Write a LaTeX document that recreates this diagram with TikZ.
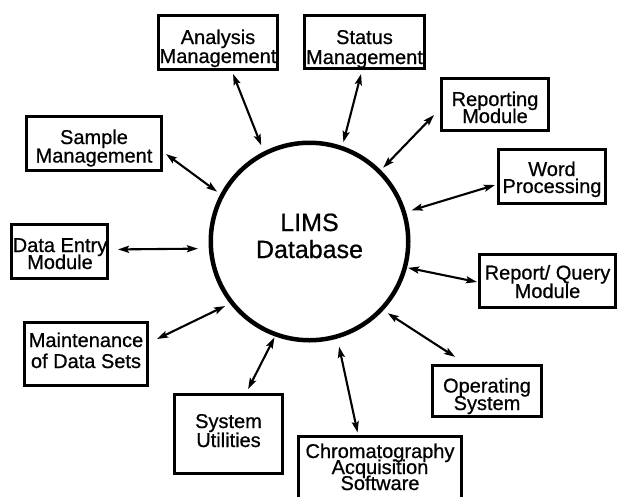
\documentclass[tikz,border=0pt]{standalone}
\usepackage{fontspec}
\setmainfont{Liberation Sans}[FakeBold=0.7]
\usetikzlibrary{arrows.meta}

% let lines sit closer than their natural height
\newcommand\tightlines{\lineskiplimit=-30pt\relax\lineskip=0pt\relax}

\tikzset{
  modbox/.style 2 args={draw, line width=2.6pt, inner sep=0pt,
    minimum width=#1, minimum height=#2},
  lbl/.style={align=center, anchor=base, inner sep=0pt,
    font=\fontsize{20pt}{#1}\selectfont\tightlines},
  link/.style={line width=2.1pt,
    {Stealth[length=11pt,width=7pt,inset=2pt]}-{Stealth[length=11pt,width=7pt,inset=2pt]}}
}

\begin{document}
\begin{tikzpicture}[x=1pt,y=-1pt]
  \path[use as bounding box, clip] (0,0) rectangle (618,496);
  \fill[white] (0,0) rectangle (618,496);

  % central database (text placed by the baseline of its last line)
  \node[circle, draw, line width=4.5pt, minimum size=197.5pt, inner sep=0pt] (lims) at (309.5,241.5) {};
  \node[lbl=27pt, font=\fontsize{25pt}{27pt}\selectfont\tightlines] (lims-t) at (309.5,258) {LIMS\\Database};

  % surrounding modules
  \node[modbox={119.4pt}{54.4pt}] (anal) at (218,42.5) {};
  \node[lbl=19pt] (anal-t) at (218,63) {Analysis\\Management};

  \node[modbox={120.4pt}{53.4pt}] (stat) at (364.5,42) {};
  \node[lbl=20pt] (stat-t) at (364.5,64) {Status\\Management};

  \node[modbox={107.4pt}{52.4pt}] (rep) at (495,104.5) {};
  \node[lbl=17pt] (rep-t) at (495,123) {Reporting\\Module};

  \node[modbox={107.4pt}{54.4pt}] (word) at (552,176.5) {};
  \node[lbl=17pt] (word-t) at (552,193) {Word\\Processing};

  \node[modbox={136.4pt}{53.4pt}] (rq) at (547.5,281) {};
  \node[lbl=18.5pt] (rq-t) at (547.5,298) {Report/ Query\\Module};

  \node[modbox={109.4pt}{51.4pt}] (ops) at (487,391) {};
  \node[lbl=17.5pt] (ops-t) at (487,410) {Operating\\System};

  \node[modbox={163.4pt}{77.4pt}] (chrom) at (380,475) {};
  \node[lbl=16pt] (chrom-t) at (380,490) {Chromatography\\Acquisition\\Software};

  \node[modbox={108.4pt}{79.4pt}] (util) at (228.5,434) {};
  \node[lbl=19pt] (util-t) at (228.5,447) {System\\Utilities};

  \node[modbox={123.4pt}{63.4pt}] (maint) at (86,354) {};
  \node[lbl=21pt] (maint-t) at (86,368) {Maintenance\\of Data Sets};

  \node[modbox={96.4pt}{54.4pt}] (dent) at (59.5,251.5) {};
  \node[lbl=17pt] (dent-t) at (60,269) {Data Entry\\Module};

  \node[modbox={135.4pt}{54.4pt}] (samp) at (94,143.5) {};
  \node[lbl=18.5pt] (samp-t) at (94,162.5) {Sample\\Management};

  % two-way links to the database
  \draw[link, shorten <=3.2pt, shorten >=6.6pt] ([xshift=13.9pt]anal.south) -- (lims.117.9);
  \draw[link, shorten <=4.1pt, shorten >=4pt] ([xshift=-2.4pt]stat.south) -- (lims.71.2);
  \draw[link, shorten <=8.6pt, shorten >=3.3pt] ([yshift=-4.3pt]rep.west) -- (lims.45.2);
  \draw[link, shorten <=2.1pt, shorten >=5.75pt] ([yshift=-7.9pt]word.west) -- (lims.17.2);
  \draw[link, shorten <=1pt, shorten >=1pt] ([yshift=-1.2pt]rq.west) -- (lims.-15.1);
  \draw[link, shorten <=13.1pt, shorten >=5.2pt] ([xshift=-20.9pt]ops.north) -- (lims.-43.6);
  \draw[link, shorten <=2.6pt, shorten >=8.3pt] ([xshift=-21.9pt]chrom.north) -- (lims.-74.7);
  \draw[link, shorten <=4.4pt, shorten >=1.2pt] ([xshift=17.6pt]util.north) -- (lims.-110.9);
  \draw[link, shorten <=8.9pt, shorten >=5.4pt] ([yshift=11.1pt]maint.east) -- (lims.-142);
  \draw[link, shorten <=9pt, shorten >=10.8pt] ([yshift=2pt]dent.east) -- (lims.184.5);
  \draw[link, shorten <=3.7pt, shorten >=4pt] ([yshift=-8.3pt]samp.east) -- (lims.152.2);
\end{tikzpicture}
\end{document}
